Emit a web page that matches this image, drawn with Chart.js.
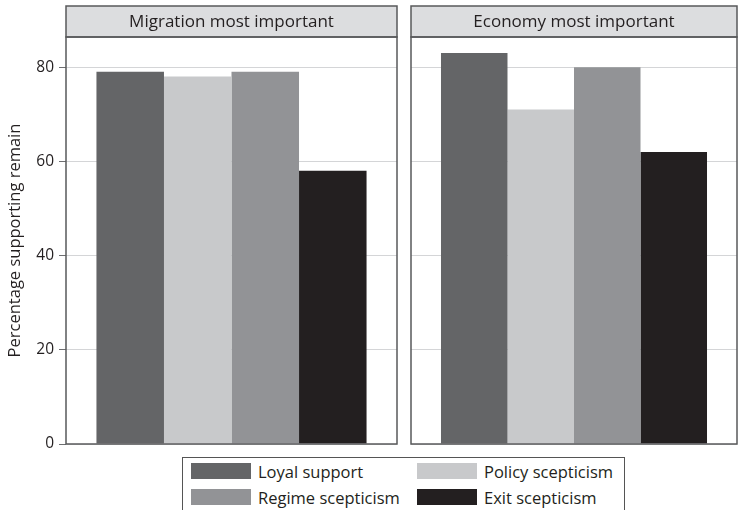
<!DOCTYPE html>
<html>
<head>
<meta charset="utf-8">
<script src="https://cdn.jsdelivr.net/npm/chart.js@4"></script>
<style>
  html, body { margin: 0; padding: 0; background: #fff; }
  body { width: 738px; height: 510px; position: relative; overflow: hidden; font-family: "Open Sans", sans-serif; }
  .wrap { position: absolute; }
  #legend { position: absolute; left: 182px; top: 457px; width: 443px; height: 60px; border: 1px solid #555; box-sizing: border-box; }
  .item { position: absolute; display: flex; align-items: center; font-size: 16.5px; color: #231f20; }
  .sw { width: 60px; height: 16px; margin-right: 7px; }
</style>
</head>
<body>
<div class="wrap" style="left:0;top:0;width:400px;height:450px;"><canvas id="c1"></canvas></div>
<div class="wrap" style="left:405px;top:0;width:333px;height:450px;"><canvas id="c2"></canvas></div>
<div id="legend"></div>
<script>
const panels = ["Migration most important", "Economy most important"];
const seriesNames = ["Loyal support", "Policy scepticism", "Regime scepticism", "Exit scepticism"];
const seriesColors = ["#646567", "#c8c9cb", "#929396", "#231f20"];
const migrationValues = [79, 78, 79, 58];
const economyValues = [83, 71, 80, 62];
const yTicks = [0, 20, 40, 60, 80];
const yTitle = "Percentage supporting remain";

const FONT = "'Open Sans', sans-serif";

const framePlugin = {
  id: 'frame',
  afterDraw(chart, args, opts) {
    const ctx = chart.ctx, a = chart.chartArea;
    ctx.save();
    ctx.fillStyle = '#dcdddf';
    ctx.fillRect(a.left, 6, a.right - a.left, a.top - 6);
    ctx.strokeStyle = '#58595b';
    ctx.lineWidth = 1.5;
    ctx.strokeRect(a.left, 6, a.right - a.left, a.top - 6);
    ctx.strokeRect(a.left, a.top, a.right - a.left, a.bottom - a.top);
    ctx.fillStyle = '#231f20';
    ctx.font = "17px " + FONT;
    ctx.textAlign = 'center';
    ctx.textBaseline = 'middle';
    ctx.fillText(opts.text, (a.left + a.right) / 2, (6 + a.top) / 2 + 1);
    ctx.restore();
  }
};

function makeChart(id, title, values, showAxis, leftWidth, padRight) {
  const datasets = seriesNames.map((n, i) => ({
    label: n,
    data: [values[i]],
    backgroundColor: seriesColors[i],
    borderWidth: 0,
    categoryPercentage: 0.816,
    barPercentage: 1.0
  }));
  return new Chart(document.getElementById(id), {
    type: 'bar',
    data: { labels: [title], datasets },
    plugins: [framePlugin],
    options: {
      responsive: true,
      maintainAspectRatio: false,
      animation: false,
      devicePixelRatio: 1,
      layout: { autoPadding: false, padding: { top: 37, bottom: 6, right: padRight, left: 0 } },
      plugins: { legend: { display: false }, tooltip: { enabled: false }, frame: { text: title } },
      scales: {
        x: { display: false },
        y: {
          min: 0,
          max: 86.4,
          afterBuildTicks(scale) { scale.ticks = yTicks.map(v => ({ value: v })); },
          afterFit(scale) {
            scale.width = leftWidth;
            scale.paddingTop = 0;
            scale.paddingBottom = 0;
          },
          border: { display: false },
          grid: {
            color: '#d4d5d7',
            lineWidth: 1,
            drawTicks: showAxis,
            tickLength: 7,
            tickColor: '#6d6e70'
          },
          ticks: {
            display: showAxis,
            color: '#231f20',
            padding: 5,
            font: { family: FONT, size: 15.5 }
          },
          title: {
            display: showAxis,
            text: yTitle,
            color: '#231f20',
            font: { family: FONT, size: 16.5 },
            padding: { top: 5, bottom: 0 }
          }
        }
      }
    }
  });
}

makeChart('c1', panels[0], migrationValues, true, 66, 3);
makeChart('c2', panels[1], economyValues, false, 6, 1);

const legend = document.getElementById('legend');
const pos = [[8, 13], [234, 13], [8, 39], [234, 39]];
[0, 1, 2, 3].forEach((i, k) => {
  const d = document.createElement('div');
  d.className = 'item';
  d.style.left = pos[k][0] + 'px';
  d.style.top = (pos[k][1] - 11) + 'px';
  d.style.height = '22px';
  d.innerHTML = '<span class="sw" style="background:' + seriesColors[i] + '"></span><span>' + seriesNames[i] + '</span>';
  legend.appendChild(d);
});
</script>
</body>
</html>
